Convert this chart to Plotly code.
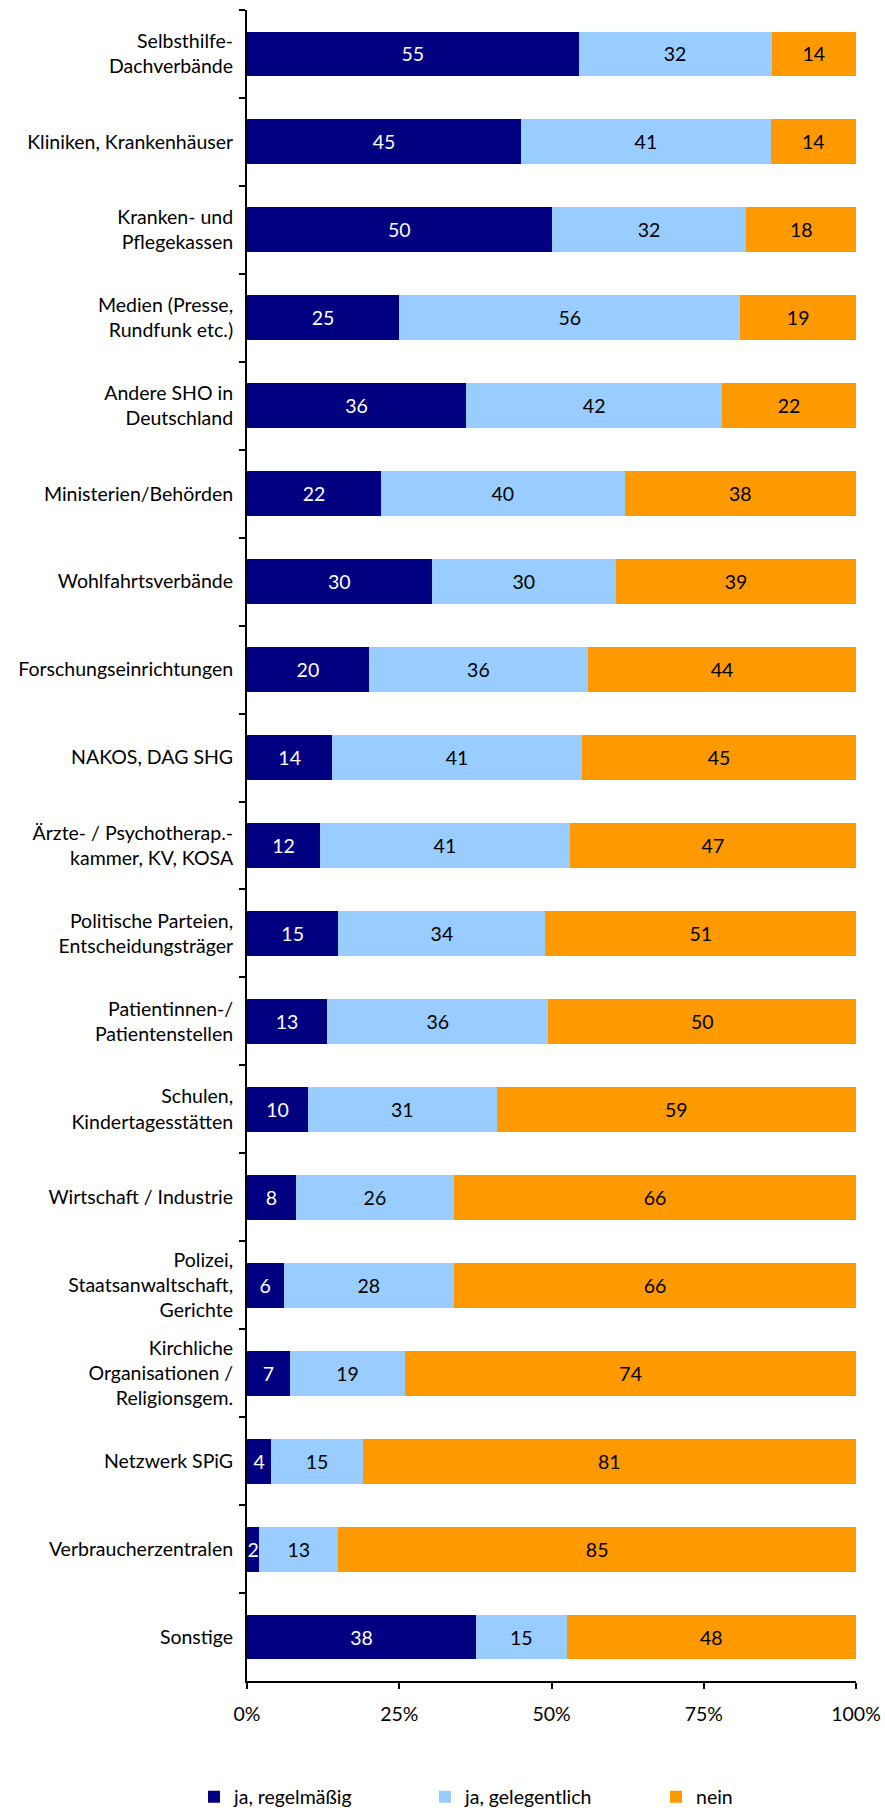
import plotly.graph_objects as go

categories = [
    "Selbsthilfe-<br>Dachverbände",
    "Kliniken, Krankenhäuser",
    "Kranken- und<br>Pflegekassen",
    "Medien (Presse,<br>Rundfunk etc.)",
    "Andere SHO in<br>Deutschland",
    "Ministerien/Behörden",
    "Wohlfahrtsverbände",
    "Forschungseinrichtungen",
    "NAKOS, DAG SHG",
    "Ärzte- / Psychotherap.-<br>kammer, KV, KOSA",
    "Politische Parteien,<br>Entscheidungsträger",
    "Patientinnen-/<br>Patientenstellen",
    "Schulen,<br>Kindertagesstätten",
    "Wirtschaft / Industrie",
    "Polizei,<br>Staatsanwaltschaft,<br>Gerichte",
    "Kirchliche<br>Organisationen /<br>Religionsgem.",
    "Netzwerk SPiG",
    "Verbraucherzentralen",
    "Sonstige",
]
regelmaessig = [55, 45, 50, 25, 36, 22, 30, 20, 14, 12, 15, 13, 10, 8, 6, 7, 4, 2, 38]
gelegentlich = [32, 41, 32, 56, 42, 40, 30, 36, 41, 41, 34, 36, 31, 26, 28, 19, 15, 13, 15]
nein = [14, 14, 18, 19, 22, 38, 39, 44, 45, 47, 51, 50, 59, 66, 66, 74, 81, 85, 48]

series_names = ["ja, regelmäßig", "ja, gelegentlich", "nein"]
series_values = [regelmaessig, gelegentlich, nein]
colors = ["#000080", "#99CCFF", "#FF9900"]
text_colors = ["white", "black", "black"]

x_ticks = [0, 25, 50, 75, 100]
x_tick_labels = ["0%", "25%", "50%", "75%", "100%"]

FONT = "Lato"
FS = 19.5

fig = go.Figure()
for name, vals, col, tcol in zip(series_names, series_values, colors, text_colors):
    fig.add_trace(go.Bar(
        y=categories, x=vals, name=name, orientation="h",
        marker=dict(color=col, line=dict(width=0)),
        text=[str(v) for v in vals], textposition="inside",
        insidetextanchor="middle", textangle=0,
        textfont=dict(color=tcol, size=FS, family=FONT),
        constraintext="none", hoverinfo="skip",
    ))

fig.update_layout(
    barmode="stack", barnorm="percent", bargap=0.49,
    width=885, height=1818,
    margin=dict(l=247, r=29, t=10, b=137, autoexpand=False),
    plot_bgcolor="white", paper_bgcolor="white",
    font=dict(family=FONT, size=FS, color="black"),
    uniformtext=dict(mode=False),
    legend=dict(
        orientation="h", x=-0.087, xanchor="left", y=-0.0694, yanchor="middle",
        entrywidth=186, entrywidthmode="pixels", font=dict(size=FS, family=FONT),
        itemclick=False, traceorder="normal",
    ),
    showlegend=True,
)
fig.update_xaxes(
    range=[0, 100], tickvals=x_ticks, ticktext=x_tick_labels,
    showgrid=False, zeroline=False, automargin=False,
    showline=True, linecolor="black", linewidth=1.5,
    ticks="outside", ticklen=6, tickwidth=1.5, tickcolor="black",
    ticklabelstandoff=9, ticklabeloverflow="allow",
)
fig.update_yaxes(
    autorange="reversed", type="category", automargin=False,
    showgrid=False, zeroline=False,
    showline=True, linecolor="black", linewidth=2,
    ticks="outside", ticklen=6, tickwidth=2, tickcolor="black",
    tickson="boundaries", ticklabelstandoff=8,
)

fig.write_html(
    "out.html",
    config={"displayModeBar": False},
    post_script="document.body.style.margin='0';document.body.style.overflow='hidden';",
)
